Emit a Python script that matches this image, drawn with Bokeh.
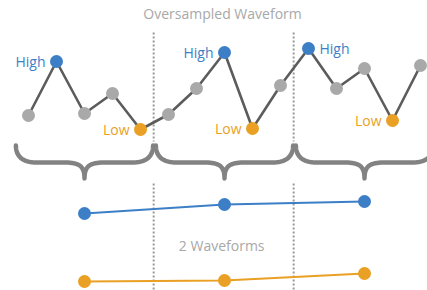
from bokeh.plotting import figure
from bokeh.models import Range1d, ColumnDataSource
from bokeh.core.properties import value
from bokeh.embed import file_html
from bokeh.resources import INLINE
import numpy as np

# ---- data ----
sample_index = list(range(1, 16))
waveform = [1.5, 6.9, 1.7, 3.7, 0.1, 1.6, 4.2, 7.8, 0.2, 4.5, 8.2, 4.2, 6.2, 1.0, 6.5]
point_kind = ["mid", "high", "mid", "mid", "low", "mid", "mid", "high", "low",
              "mid", "high", "mid", "mid", "low", "mid"]
segment_centers = [3, 8, 13]
segment_bounds = [5.47, 10.47]
high_envelope = [-8.3, -7.4, -7.1]
low_envelope = [-15.1, -15.0, -14.3]
high_label_side = ["left", "left", "right"]
title_text = "Oversampled Waveform"
bottom_text = "2 Waveforms"

BLUE = "#3d7fc6"
ORANGE = "#e9a024"
GRAY_PT = "#a9a9a9"
LINE = "#5c5c5c"
BRACE = "#828282"
TEXT_GRAY = "#a8a8a8"
FONT = "Open Sans"

p = figure(width=427, height=290, output_backend="svg", toolbar_location=None,
           x_range=Range1d(0, 427 / 28), y_range=Range1d(-16, 13),
           min_border=0, min_border_left=0, min_border_right=0,
           min_border_top=0, min_border_bottom=0)
p.axis.visible = False
p.grid.visible = False
p.outline_line_color = None
p.background_fill_color = "white"
p.border_fill_color = "white"

# dotted separators (gap where braces are)
for b in segment_bounds:
    p.line([b, b], [9.8, -1.1], line_color="#9a9a9a", line_width=2, line_dash="2 2")
    p.line([b, b], [-5.3, -16], line_color="#9a9a9a", line_width=2, line_dash="2 2")

# waveform line
p.line(sample_index, waveform, line_color=LINE, line_width=2.6)

colors = {"mid": GRAY_PT, "high": BLUE, "low": ORANGE}
src = ColumnDataSource(dict(x=sample_index, y=waveform,
                            c=[colors[k] for k in point_kind]))
p.scatter("x", "y", source=src, size=13, fill_color="c", line_color=None)

# High / Low labels
hx = [sample_index[i] for i, k in enumerate(point_kind) if k == "high"]
hy = [waveform[i] for i, k in enumerate(point_kind) if k == "high"]
lx = [sample_index[i] for i, k in enumerate(point_kind) if k == "low"]
ly = [waveform[i] for i, k in enumerate(point_kind) if k == "low"]
for x, y, side in zip(hx, hy, high_label_side):
    p.text([x], [y], text=["High"], text_color=BLUE, text_font=value(FONT),
           text_font_size="14px", text_baseline="middle",
           text_align="right" if side == "left" else "left",
           x_offset=-11 if side == "left" else 11)
for x, y in zip(lx, ly):
    p.text([x], [y], text=["Low"], text_color=ORANGE, text_font=value(FONT),
           text_font_size="14px", text_baseline="middle", text_align="right",
           x_offset=-11)

# braces
def cubic(p0, p1, p2, p3, n=20):
    t = np.linspace(0, 1, n)[:, None]
    pts = ((1 - t) ** 3) * np.array(p0) + 3 * ((1 - t) ** 2) * t * np.array(p1) \
        + 3 * (1 - t) * t ** 2 * np.array(p2) + t ** 3 * np.array(p3)
    return pts

W, top, mid, tip = 2.45, -1.5, -3.2, -4.8
xs, ys = [], []
for c in segment_centers:
    a = cubic((c - W, top), (c - W, mid + 0.7), (c - W + 0.2, mid), (c - W + 0.75, mid))
    b = cubic((c - 0.75, mid), (c - 0.2, mid), (c, mid - 0.3), (c, tip))
    left = np.vstack([a, b])
    right = left[::-1].copy()
    right[:, 0] = 2 * c - right[:, 0]
    path = np.vstack([left, right])
    xs.append(list(path[:, 0]))
    ys.append(list(path[:, 1]))
p.multi_line(xs, ys, line_color=BRACE, line_width=4.5, line_join="round", line_cap="round")

# envelopes
p.line(segment_centers, high_envelope, line_color=BLUE, line_width=2)
p.scatter(segment_centers, high_envelope, size=13, fill_color=BLUE, line_color=None)
p.line(segment_centers, low_envelope, line_color=ORANGE, line_width=2)
p.scatter(segment_centers, low_envelope, size=13, fill_color=ORANGE, line_color=None)

# texts
p.text([7.93], [11.7], text=[title_text], text_color=TEXT_GRAY, text_font=value(FONT),
       text_font_size="14px", text_align="center", text_baseline="middle")
p.text([7.9], [-11.5], text=[bottom_text], text_color=TEXT_GRAY, text_font=value(FONT),
       text_font_size="14px", text_align="center", text_baseline="middle")

open("out.html", "w").write(file_html(p, INLINE))
